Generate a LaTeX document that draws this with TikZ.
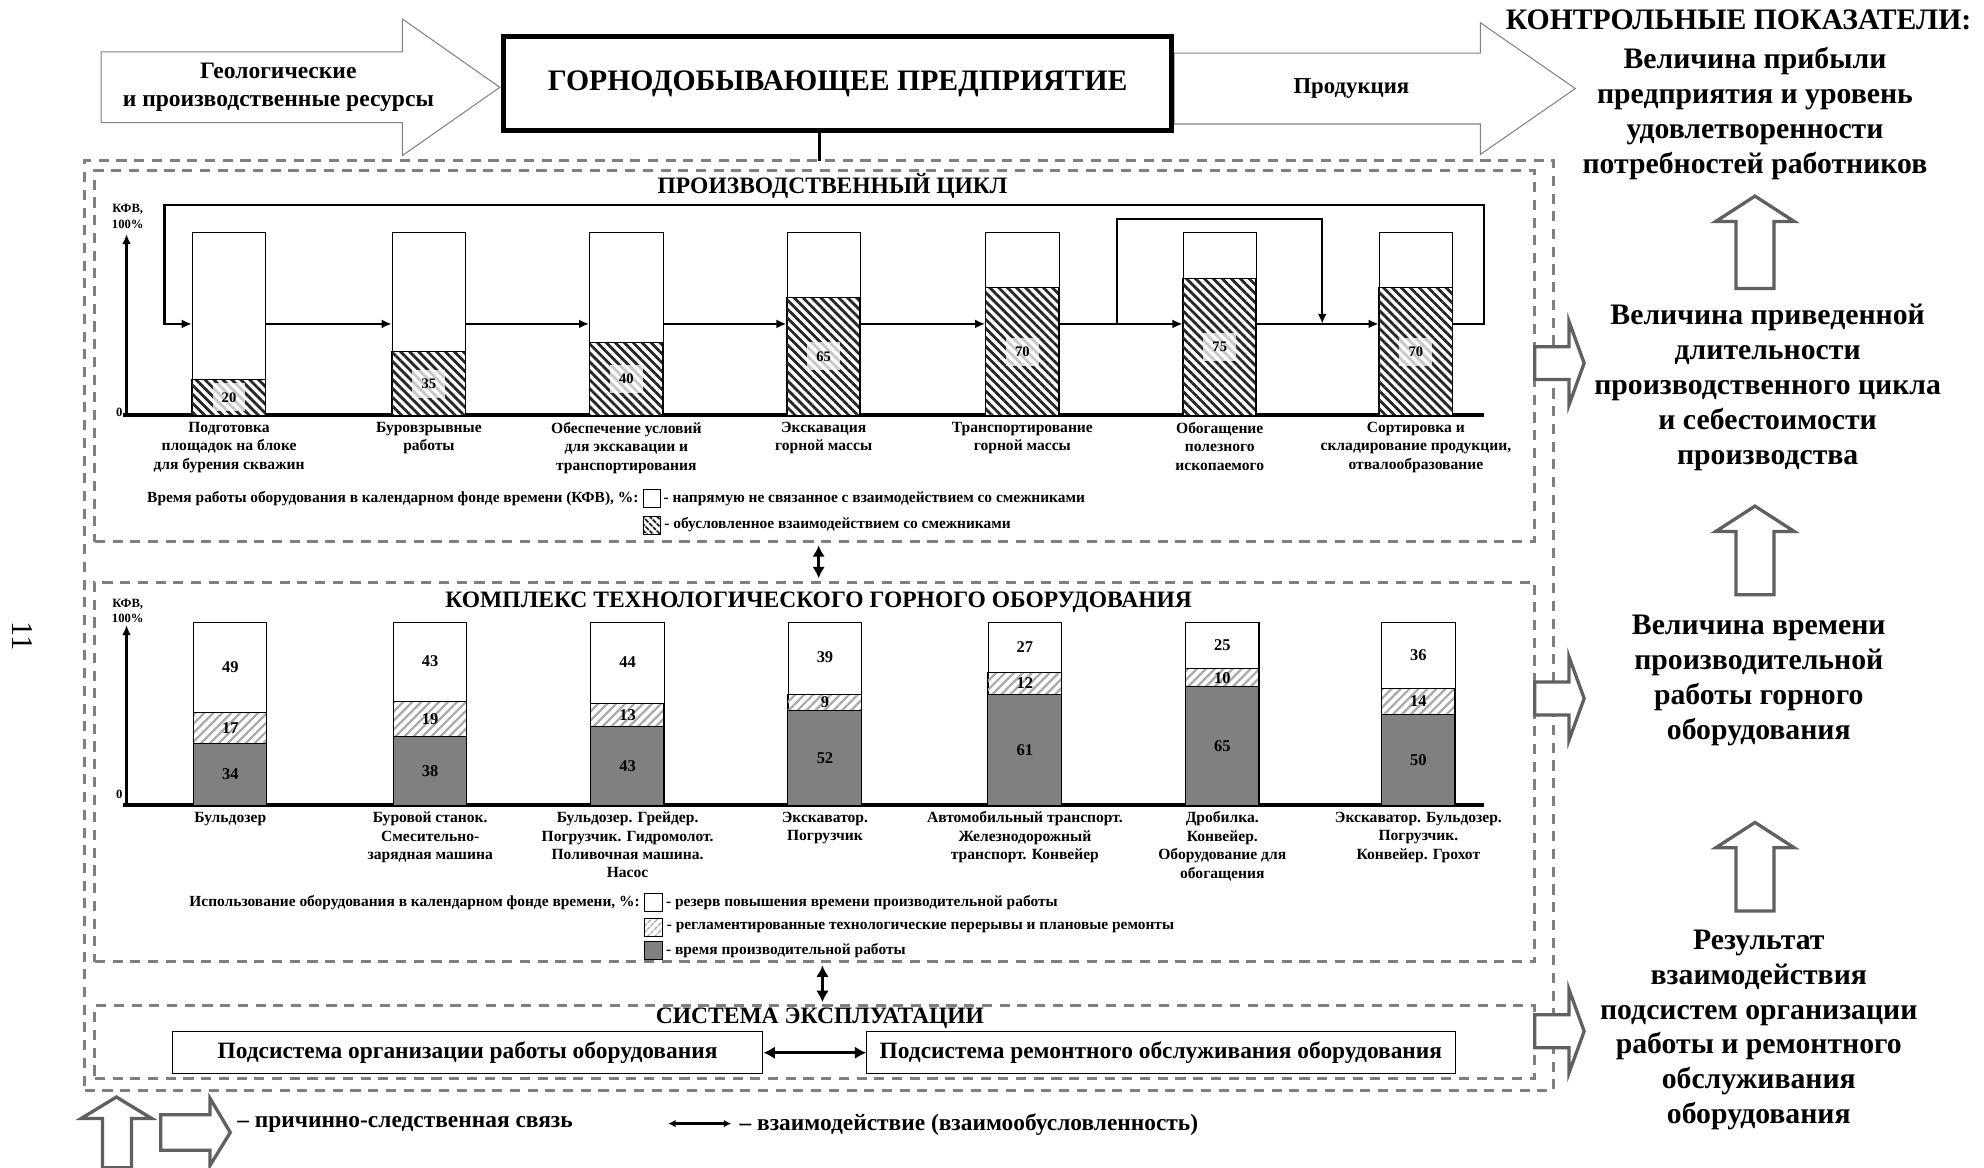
\documentclass[tikz,border=0pt]{standalone}
\usepackage{fontspec}
\setmainfont{Liberation Serif}
\usetikzlibrary{arrows.meta,positioning,patterns.meta}
\definecolor{framegray}{RGB}{128,128,128}
\definecolor{arrowgray}{RGB}{96,96,96}
\definecolor{prodgray}{RGB}{128,128,128}
\definecolor{hatchgray}{RGB}{170,170,170}

\begin{document}
\begin{tikzpicture}[x=1pt, y=-1pt,
    frame/.style={draw=framegray, dash pattern=on 8pt off 6pt, line width=2.4pt, inner sep=0pt, outer sep=0pt},
    bigarrow/.style={draw=framegray, fill=white, line width=0.8pt},
    causearrow/.style={draw=arrowgray, fill=white, line width=2.6pt, line join=miter},
    bar/.style={draw, fill=white, line width=0.8pt, minimum width=58pt, minimum height=144pt, inner sep=0pt},
    hatchA/.style={draw, line width=0.8pt, pattern={Lines[angle=-45,distance=5pt,line width=2.2pt]}, pattern color=black!85},
    hatchB/.style={draw, line width=0.8pt, pattern={Lines[angle=45,distance=5pt,line width=1.8pt]}, pattern color=hatchgray},
    axisline/.style={line width=3pt},
    flow/.style={-{Latex[length=8pt,width=7pt]}, line width=1.8pt},
    both/.style={{Latex[length=9pt,width=10pt]}-{Latex[length=9pt,width=10pt]}, line width=2.6pt},
    title/.style={font=\fontsize{18.6}{22}\selectfont\bfseries},
    barlbl/.style={font=\fontsize{12.3}{14.6}\selectfont\bfseries, align=center, anchor=north, inner sep=0pt},
    legtext/.style={font=\fontsize{12.2}{14}\selectfont\bfseries, inner sep=0pt},
    smalltxt/.style={font=\fontsize{10}{12}\selectfont\bfseries, align=center, inner sep=0pt},
    num/.style={font=\fontsize{13}{15}\selectfont\bfseries, inner sep=1pt},
    valbox/.style={font=\fontsize{11.5}{13}\selectfont\bfseries, fill=white, fill opacity=0.75, text opacity=1, minimum width=26pt, minimum height=22pt, inner sep=0pt},
    kpi/.style={font=\fontsize{23.5}{27.6}\selectfont\bfseries, align=center},
    sysbox/.style={draw, line width=0.8pt, minimum height=33pt, font=\fontsize{18.5}{22}\selectfont\bfseries}
]
\useasboundingbox (0,0) rectangle (1568,923);

% top row
\draw[bigarrow] (80,41) -- (318,41) -- (318,15) -- (395,69) -- (318,123) -- (318,97) -- (80,97) -- cycle;
\draw[bigarrow] (928,42) -- (1170,42) -- (1170,18) -- (1245,70) -- (1170,122) -- (1170,98) -- (928,98) -- cycle;
\node[title, align=center] (res) at (220,69) {Геологические\\и производственные ресурсы};
\node[draw, fill=white, line width=3.5pt, minimum width=528pt, minimum height=74pt, font=\fontsize{23.5}{28}\selectfont\bfseries] (top) at (662,66) {ГОРНОДОБЫВАЮЩЕЕ ПРЕДПРИЯТИЕ};
\node[font=\fontsize{18}{22}\selectfont\bfseries] (prod) at (1068,70) {Продукция};
\node[font=\fontsize{23.5}{28}\selectfont\bfseries] (ctl) at (1374,16) {КОНТРОЛЬНЫЕ ПОКАЗАТЕЛИ:};

% frames
\node[frame, minimum width=1161pt, minimum height=735pt] (outer) at (647.5,494.5) {};
\node[frame, minimum width=1138pt, minimum height=293pt] (cyc) at (644,281.5) {};
\node[frame, minimum width=1138pt, minimum height=300pt] (eqp) at (644,610) {};
\node[frame, minimum width=1138pt, minimum height=57pt] (ops) at (644,823.5) {};
\draw[line width=2.5pt] (top.south -| outer.north) -- (outer.north);
\draw[both, shorten <=3pt, shorten >=3pt] ([xshift=3pt]cyc.south) -- ([xshift=3pt]eqp.north);
\draw[both, shorten <=3pt, shorten >=3pt] ([xshift=6pt]eqp.south) -- ([xshift=6pt]ops.north);

% production cycle
\node[title] (cycT) at (658,147) {ПРОИЗВОДСТВЕННЫЙ ЦИКЛ};
\draw[axisline, -{Latex[length=8pt,width=7pt]}] (100,329) -- (100,185);
\draw[axisline] (97,328) -- (1173,328);
\node[smalltxt] (cycY) at (101,171) {КФВ,\\100\%};
\node[smalltxt, anchor=east] (cyc0) at (97,326) {0};
\foreach \i/\x/\v in {1/181/20, 2/339/35, 3/495/40, 4/651/65, 5/808/70, 6/964/75, 7/1119/70} {
  \node[bar] (c\i) at (\x,256) {};
  \draw[hatchA] (c\i.south west) rectangle ++(58,-1.44*\v);
  \path (c\i.south) ++(0,-0.72*\v) node[valbox] (cv\i) {\v};
}
\foreach \i/\j in {1/2, 2/3, 3/4, 4/5, 5/6, 6/7}
  \draw[flow] (c\i.east) -- (c\j.west);
\coordinate (loopR) at (1173,162);
\coordinate (loopL) at (130,162);
\draw[flow] (c7.east) -| (loopR) -- (loopL) |- (c1.west);
\coordinate (jA) at (883,256);
\coordinate (jB) at (1045,173);
\draw[flow] (jA) |- (jB) -- (jB |- c7.west);
\foreach \i/\t in {1/{Подготовка\\площадок на блоке\\для бурения скважин}, 2/{Буровзрывные\\работы},
    3/{Обеспечение условий\\для экскавации и\\транспортирования}, 4/{Экскавация\\горной массы},
    5/{Транспортирование\\горной массы}, 6/{Обогащение\\полезного\\ископаемого},
    7/{Сортировка и\\складирование продукции,\\отвалообразование}}
  \node[barlbl] (ct\i) at ([yshift=-5pt]c\i.south) {\t};
\node[draw, fill=white, minimum size=14pt, inner sep=0pt] (lgA) at (515,394) {};
\node[draw, minimum size=14pt, inner sep=0pt, pattern={Lines[angle=-45,distance=4pt,line width=1.6pt]}] (lgB) at (515,415) {};
\node[legtext, left=3pt of lgA] (lgAl) {Время работы оборудования в календарном фонде времени (КФВ), \%:};
\node[legtext, right=2pt of lgA] (lgAt) {- напрямую не связанное с взаимодействием со смежниками};
\node[legtext, right=2pt of lgB] (lgBt) {- обусловленное взаимодействием со смежниками};

% equipment complex
\node[title] (eqpT) at (647,476) {КОМПЛЕКС ТЕХНОЛОГИЧЕСКОГО ГОРНОГО ОБОРУДОВАНИЯ};
\draw[axisline, -{Latex[length=8pt,width=7pt]}] (100,637) -- (100,494);
\draw[axisline] (97,636) -- (1173,636);
\node[smalltxt] (eqpY) at (101,483) {КФВ,\\100\%};
\node[smalltxt, anchor=east] (eqp0) at (97,628) {0};
\foreach \i/\x/\p/\h/\r in {1/182/34/17/49, 2/340/38/19/43, 3/496/43/13/44, 4/652/52/9/39,
    5/810/61/12/27, 6/966/65/10/25, 7/1121/50/14/36} {
  \node[bar] (e\i) at (\x,564) {};
  \draw[fill=prodgray, line width=0.8pt] (e\i.south west) rectangle ++(58,-1.44*\p);
  \draw[hatchB] (e\i.south west) ++(0,-1.44*\p) rectangle ++(58,-1.44*\h);
  \path (e\i.south) ++(0,-0.72*\p) node[num] (ep\i) {\p};
  \path (e\i.south) ++(0,-1.44*\p-0.72*\h) node[num] (eh\i) {\h};
  \path (e\i.north) ++(0,0.72*\r) node[num] (er\i) {\r};
}
\foreach \i/\t in {1/{Бульдозер}, 2/{Буровой станок.\\Смесительно-\\зарядная машина},
    3/{Бульдозер. Грейдер.\\Погрузчик. Гидромолот.\\Поливочная машина.\\Насос}, 4/{Экскаватор.\\Погрузчик},
    5/{Автомобильный транспорт.\\Железнодорожный\\транспорт. Конвейер}, 6/{Дробилка.\\Конвейер.\\Оборудование для\\обогащения},
    7/{Экскаватор. Бульдозер.\\Погрузчик.\\Конвейер. Грохот}}
  \node[barlbl] (et\i) at ([yshift=-5pt]e\i.south) {\t};
\node[draw, fill=white, minimum size=14pt, inner sep=0pt] (lgC) at (516,713) {};
\node[draw, minimum size=14pt, inner sep=0pt, pattern={Lines[angle=45,distance=4pt,line width=1.5pt]}, pattern color=hatchgray] (lgD) at (516,733) {};
\node[draw, fill=prodgray, minimum width=14pt, minimum height=15pt, inner sep=0pt] (lgE) at (516,751) {};
\node[legtext, left=3pt of lgC] (lgCl) {Использование оборудования в календарном фонде времени, \%:};
\node[legtext, right=3pt of lgC] (lgCt) {- резерв повышения времени производительной работы};
\node[legtext, right=3pt of lgD] (lgDt) {- регламентированные технологические перерывы и плановые ремонты};
\node[legtext, right=3pt of lgE] (lgEt) {- время производительной работы};

% operation system
\node[title] (opsT) at (648,805) {СИСТЕМА ЭКСПЛУАТАЦИИ};
\node[sysbox, minimum width=467pt] (subA) at (369.5,832) {Подсистема организации работы оборудования};
\node[sysbox, minimum width=465pt] (subB) at (917.5,832) {Подсистема ремонтного обслуживания оборудования};
\draw[both] (subA) -- (subB);

% indicators
\node[kpi] (k1) at (1387,90) {Величина прибыли\\предприятия и уровень\\удовлетворенности\\потребностей работников};
\node[kpi] (k2) at (1397,306) {Величина приведенной\\длительности\\производственного цикла\\и себестоимости\\производства};
\node[kpi] (k3) at (1390,538) {Величина времени\\производительной\\работы горного\\оборудования};
\node[kpi] (k4) at (1390,814) {Результат\\взаимодействия\\подсистем организации\\работы и ремонтного\\обслуживания\\оборудования};
\foreach \t/\b in {155/228, 400/470, 650/720}
  \draw[causearrow] (1387,\t) -- (1418,\t+20) -- (1402,\t+20) -- (1402,\b) -- (1372,\b) -- (1372,\t+20) -- (1356,\t+20) -- cycle;
\foreach \y in {287, 552, 815}
  \draw[causearrow] (1213,\y-13) -- (1240,\y-13) -- (1240,\y-33) -- (1252,\y) -- (1240,\y+33) -- (1240,\y+13) -- (1213,\y+13) -- cycle;

% legend
\draw[causearrow] (92,867) -- (120,884) -- (104,884) -- (104,923) -- (81,923) -- (81,884) -- (64,884) -- cycle;
\draw[causearrow] (127,881) -- (166,881) -- (166,868) -- (182,895) -- (166,921) -- (166,909) -- (127,909) -- cycle;
\node[font=\fontsize{18.5}{22}\selectfont\bfseries, anchor=west] (lgF) at (184,889) {– причинно-следственная связь};
\coordinate (dA) at (528,888);
\coordinate (dB) at (578,888);
\draw[{Latex[length=6pt,width=6pt]}-{Latex[length=6pt,width=6pt]}, line width=1.8pt] (dA) -- (dB);
\node[font=\fontsize{18.5}{22}\selectfont\bfseries, anchor=west] (lgG) at (581,889) {– взаимодействие (взаимообусловленность)};
\node[rotate=-90, font=\fontsize{24}{28}\selectfont] (pg) at (18,503) {11};
\end{tikzpicture}
\end{document}
